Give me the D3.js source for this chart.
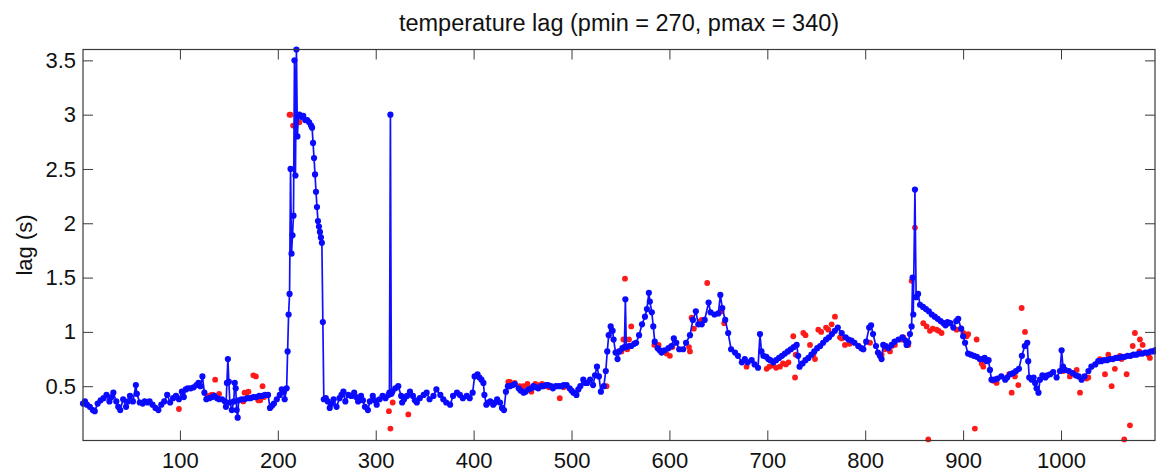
<!DOCTYPE html>
<html>
<head>
<meta charset="utf-8">
<script src="https://cdn.jsdelivr.net/npm/d3@7"></script>
<style>
  body { margin: 0; background: #fff; }
  svg { display: block; font-family: "Liberation Sans", Arial, Helvetica, sans-serif; }
</style>
</head>
<body>
<svg id="chart"></svg>
<script>
// chart text
const titleText = "temperature lag (pmin = 270, pmax = 340)";
const yLabel = "lag (s)";
const xTicks = [100, 200, 300, 400, 500, 600, 700, 800, 900, 1000];
const yTicks = [0.5, 1, 1.5, 2, 2.5, 3, 3.5];

// blue series (smoothed lag), [sample, lag]
const lagSmooth = [
  [1,0.34],[3,0.36],[5,0.33],[8,0.31],[11,0.28],[13,0.27],[16,0.34],[19,0.37],[22,0.39],[25,0.42],
  [28,0.36],[30,0.40],[32,0.44],[35,0.36],[37,0.31],[39,0.28],[42,0.38],[45,0.31],[47,0.36],[49,0.41],
  [52,0.36],[55,0.51],[56,0.43],[59,0.35],[62,0.34],[64,0.36],[67,0.35],[69,0.36],[72,0.33],[75,0.30],
  [78,0.28],[81,0.33],[84,0.36],[87,0.42],[90,0.35],[93,0.39],[96,0.41],[99,0.38],[102,0.45],[104,0.40],
  [106,0.47],[108,0.48],[111,0.48],[114,0.49],[117,0.51],[119,0.53],[121,0.50],[123,0.59],[125,0.44],[127,0.38],
  [130,0.39],[133,0.40],[135,0.41],[138,0.39],[140,0.38],[143,0.38],[146,0.36],[147,0.31],[148,0.53],[149,0.75],
  [150,0.54],[151,0.35],[153,0.28],[155,0.36],[156,0.53],[157,0.48],[158,0.28],[159,0.21],[160,0.37],[163,0.38],
  [166,0.38],[169,0.39],[172,0.39],[175,0.40],[178,0.40],[181,0.41],[184,0.41],[187,0.42],[190,0.42],[192,0.30],
  [194,0.32],[196,0.34],[199,0.38],[202,0.42],[204,0.47],[206,0.45],[207,0.38],[209,0.48],[210,0.82],[211,1.16],
  [212,1.35],[213,2.50],[214,1.72],[215,1.89],[216,2.07],[217,3.50],[218,2.44],[219,3.60],[220,2.80],[221,2.99],
  [222,3.00],[224,2.98],[226,2.99],[228,2.95],[230,2.95],[232,2.93],[234,2.90],[235,2.88],[236,2.74],[237,2.60],
  [238,2.45],[239,2.29],[240,2.15],[241,2.02],[242,1.97],[243,1.92],[244,1.87],[245,1.82],[246,1.09],[247,0.38],
  [249,0.39],[251,0.36],[253,0.30],[255,0.34],[257,0.38],[260,0.31],[263,0.39],[265,0.42],[267,0.45],[269,0.36],
  [272,0.42],[275,0.41],[278,0.44],[280,0.40],[282,0.36],[285,0.41],[287,0.37],[289,0.31],[292,0.28],[294,0.36],
  [297,0.41],[299,0.37],[301,0.33],[304,0.38],[307,0.41],[310,0.39],[313,0.42],[314,0.44],[315,3.00],[316,0.43],
  [317,0.45],[320,0.48],[323,0.50],[326,0.41],[327,0.35],[329,0.38],[332,0.41],[335,0.45],[338,0.41],[340,0.37],
  [342,0.35],[345,0.39],[349,0.42],[352,0.44],[355,0.38],[359,0.41],[362,0.47],[366,0.42],[369,0.38],[372,0.35],
  [376,0.33],[379,0.41],[383,0.44],[386,0.42],[389,0.39],[393,0.41],[396,0.39],[399,0.44],[401,0.59],[404,0.61],
  [406,0.58],[408,0.56],[410,0.53],[411,0.42],[413,0.33],[415,0.35],[417,0.36],[420,0.33],[422,0.35],[424,0.38],
  [427,0.35],[429,0.30],[431,0.28],[433,0.45],[435,0.50],[437,0.50],[440,0.51],[442,0.52],[446,0.48],[448,0.46],
  [451,0.44],[453,0.45],[456,0.47],[459,0.48],[461,0.50],[464,0.49],[466,0.48],[469,0.50],[471,0.50],[474,0.51],
  [476,0.51],[479,0.50],[481,0.48],[484,0.50],[487,0.50],[490,0.50],[492,0.51],[495,0.51],[498,0.48],[500,0.46],
  [502,0.44],[505,0.42],[507,0.47],[509,0.50],[512,0.56],[514,0.53],[516,0.53],[519,0.56],[522,0.51],[524,0.60],
  [526,0.68],[528,0.59],[530,0.45],[533,0.50],[535,0.64],[536.5,0.82],[538,0.97],[540,1.05],[542,1.01],[543,0.93],
  [545,0.81],[547,0.75],[549,0.82],[552,0.85],[554,0.86],[555,1.30],[556,0.86],[559,0.87],[561,0.87],[564,0.89],
  [566,0.90],[569,0.97],[572,1.07],[575,1.14],[577,1.21],[579,1.36],[580,1.28],[582,1.18],[583.5,1.05],[585,0.91],
  [588,0.85],[590,0.83],[592,0.81],[595,0.83],[599,0.85],[602,0.87],[604.5,0.94],[607,0.90],[610,0.84],[614,0.84],
  [617,0.90],[621,0.97],[624,1.11],[627,1.19],[629.5,1.07],[633,1.07],[636,1.11],[640,1.27],[642,1.18],[646,1.16],
  [650,1.17],[652,1.34],[654,1.22],[657,1.11],[660,0.99],[663,0.84],[667,0.81],[670,0.78],[674,0.72],[677,0.75],
  [680,0.72],[684,0.74],[687,0.70],[690.5,0.67],[692.5,0.98],[694,0.82],[696,0.78],[699,0.77],[701,0.75],[703,0.74],
  [706,0.72],[709,0.74],[712,0.76],[715,0.78],[718,0.80],[721,0.82],[724,0.84],[727,0.86],[730,0.88],[731.5,0.78],
  [733,0.68],[736,0.71],[739,0.74],[742,0.76],[745,0.79],[748,0.82],[751,0.85],[754,0.87],[757,0.90],[760,0.93],
  [763,0.95],[766,0.98],[769,1.01],[772,1.04],[776,0.99],[780,0.95],[783,0.93],[786,0.92],[789,0.90],[793,0.87],
  [796,0.85],[798,0.84],[801,0.91],[804,1.04],[806,1.06],[808,0.98],[811,0.87],[813,0.81],[815,0.78],[816.7,0.75],
  [818.4,0.88],[821,0.87],[823.5,0.85],[827,0.88],[830,0.91],[834,0.93],[838,0.95],[841,0.92],[842.3,0.88],[844,0.90],
  [845.7,0.98],[847.4,1.05],[848.4,1.50],[849.1,1.16],[850.8,2.31],[852,1.32],[854,1.35],[856,1.25],[859,1.23],[862,1.21],
  [865,1.19],[868,1.16],[871,1.14],[874,1.12],[877,1.10],[880,1.08],[882,1.06],[884,1.09],[887,1.08],[890,1.04],
  [893,1.10],[895,1.12],[898,1.03],[900,0.96],[902,0.90],[905,0.80],[908,0.79],[911,0.78],[914,0.77],[917,0.75],
  [920,0.75],[922,0.76],[924,0.73],[926,0.74],[927.4,0.65],[929,0.56],[932,0.56],[935,0.57],[939,0.59],[943,0.56],
  [945,0.58],[948,0.61],[951,0.62],[954,0.64],[957,0.66],[960,0.78],[963,0.87],[965.5,0.90],[966.5,0.73],[967.5,0.58],
  [970,0.56],[972,0.58],[973.5,0.53],[975,0.48],[977,0.44],[978.5,0.56],[981,0.60],[984,0.58],[986,0.60],[989,0.61],
  [992,0.63],[995.5,0.58],[999,0.64],[1000.6,0.83],[1002,0.68],[1004,0.65],[1008,0.64],[1012,0.62],[1015,0.60],[1018,0.59],
  [1021,0.56],[1024,0.59],[1028,0.64],[1031,0.68],[1035,0.70],[1038,0.73],[1041,0.73],[1044,0.74],[1047,0.74],[1050,0.75],
  [1053,0.75],[1056,0.76],[1059,0.76],[1062,0.77],[1065,0.77],[1068,0.78],[1071,0.78],[1074,0.79],[1077,0.79],[1080,0.80],
  [1083,0.80],[1086,0.81],[1089,0.81],[1092,0.82],[1095,0.82],[1096,0.83]
];

// red points (raw lag estimates), [sample, lag]
const lagRaw = [
  [99,0.29],[129,0.41],[132,0.42],[134,0.42],[136,0.56],[140,0.43],[164.7,0.36],[166,0.44],[168,0.44],[170,0.45],
  [175,0.60],[177.6,0.59],[180,0.37],[182,0.37],[184.4,0.50],[186,0.40],[212,3.0],[213,3.0],[215.6,2.9],[222,2.93],
  [313.5,0.27],[315,0.11],[317.3,0.35],[333.3,0.24],[435.4,0.54],[437,0.54],[442,0.53],[447,0.50],[450.7,0.50],[455,0.52],
  [459,0.45],[463,0.52],[466,0.51],[470,0.52],[473,0.50],[477,0.49],[488,0.39],[492,0.49],[535.8,0.50],[541,1.02],
  [548,0.82],[551,0.82],[553,0.93],[554.6,1.49],[557,0.84],[558.7,0.93],[561,1.05],[584.6,0.88],[589,0.88],[597,0.80],
  [600.5,0.78],[603,0.86],[620,0.86],[621,0.82],[622.6,1.13],[625,1.03],[631.7,1.10],[633,1.11],[638.6,1.45],[653.3,1.19],
  [656,1.08],[678.8,0.68],[699.3,0.66],[702,0.68],[706,0.69],[709,0.67],[712.9,0.68],[716,0.71],[719,0.70],[721.6,0.72],
  [726.5,0.96],[728.3,0.58],[729,0.79],[736.8,0.99],[739,0.97],[743.6,0.88],[747,0.79],[748.7,0.75],[752.1,1.02],[755,1.00],
  [760,1.04],[762.3,1.02],[765.7,1.07],[769.1,1.14],[774.2,0.95],[776,0.94],[779.3,0.88],[784,0.89],[793,0.87],[798,0.84],
  [804.9,0.90],[816.8,0.79],[820,0.84],[825.3,0.82],[827,0.87],[830.3,0.88],[837.2,0.93],[839,0.95],[844,0.88],[847.4,1.47],
  [850.8,1.96],[859.3,1.08],[862.7,1.05],[864.4,0.01],[866.1,1.01],[869,1.03],[873,1.02],[875,1.01],[878,0.99],[883,1.07],
  [893.4,1.02],[900.2,0.99],[903.6,0.96],[905.2,0.98],[912,0.11],[913.8,0.93],[919,0.71],[920.6,0.68],[930.8,0.55],[934.2,0.53],
  [947,0.61],[949.6,0.44],[953,0.59],[956.4,0.51],[959.8,1.22],[963.2,1.00],[1002.3,0.64],[1004,0.65],[1009,0.59],[1016,0.65],
  [1019.4,0.44],[1026,0.57],[1027.9,0.58],[1039.8,0.75],[1044.9,0.61],[1048.3,0.79],[1051.7,0.50],[1055,0.66],[1060,0.78],[1061.9,0.75],
  [1064.6,0.01],[1067,0.61],[1070.4,0.78],[1070.4,0.14],[1073.2,0.87],[1075.5,0.99],[1080,0.82],[1080.6,0.93],[1083.4,0.88],[1089.2,0.79],
  [1090.8,0.76]
];

const width = 1156;
const height = 474;
const margin = { top: 49.5, right: 1, bottom: 33.5, left: 83 };
const axisColor = "#3a3a3a";

const svg = d3.select("#chart")
  .attr("width", width)
  .attr("height", height);

const x = d3.scaleLinear()
  .domain([1, 1096])
  .range([margin.left, width - margin.right]);

const y = d3.scaleLinear()
  .domain([0, 3.6])
  .range([height - margin.bottom, margin.top]);

// red raw points go under the blue line
svg.append("g")
  .selectAll("circle")
  .data(lagRaw)
  .enter()
  .append("circle")
  .attr("cx", d => x(d[0]))
  .attr("cy", d => y(d[1]))
  .attr("r", 2.9)
  .attr("fill", "#ff1a1a");

const line = d3.line()
  .x(d => x(d[0]))
  .y(d => y(d[1]));

svg.append("path")
  .datum(lagSmooth)
  .attr("d", line)
  .attr("fill", "none")
  .attr("stroke", "#1010ff")
  .attr("stroke-width", 1.7);

svg.append("g")
  .selectAll("circle")
  .data(lagSmooth)
  .enter()
  .append("circle")
  .attr("cx", d => x(d[0]))
  .attr("cy", d => y(d[1]))
  .attr("r", 3.1)
  .attr("fill", "#0a0aff");

// axes, MATLAB-style box with inward ticks on all sides
const tickLen = 10;
const x0 = margin.left, x1 = width - margin.right;
const y0 = height - margin.bottom, y1 = margin.top;
const fmt = d => String(d);

const xAxisB = d3.axisBottom(x).tickValues(xTicks).tickFormat(fmt).tickSizeInner(-tickLen).tickSizeOuter(0).tickPadding(12);
const xAxisT = d3.axisTop(x).tickValues(xTicks).tickSizeInner(-tickLen).tickSizeOuter(0).tickFormat("");
const yAxisL = d3.axisLeft(y).tickValues(yTicks).tickFormat(fmt).tickSizeInner(-tickLen).tickSizeOuter(0).tickPadding(7);
const yAxisR = d3.axisRight(y).tickValues(yTicks).tickSizeInner(-tickLen).tickSizeOuter(0).tickFormat("");

const gB = svg.append("g").attr("transform", `translate(0,${y0})`).call(xAxisB);
const gT = svg.append("g").attr("transform", `translate(0,${y1})`).call(xAxisT);
const gL = svg.append("g").attr("transform", `translate(${x0},0)`).call(yAxisL);
const gR = svg.append("g").attr("transform", `translate(${x1},0)`).call(yAxisR);

[gB, gT, gL, gR].forEach(g => {
  g.select(".domain").remove();
  g.selectAll(".tick line").attr("stroke", axisColor).attr("stroke-width", 1);
  g.selectAll("text")
    .attr("fill", "#111")
    .style("font-family", "'Liberation Sans', Arial, sans-serif")
    .style("font-size", "22px");
});

svg.append("rect")
  .attr("x", x0)
  .attr("y", y1)
  .attr("width", x1 - x0)
  .attr("height", y0 - y1)
  .attr("fill", "none")
  .attr("stroke", axisColor)
  .attr("stroke-width", 1.2);

svg.append("text")
  .attr("x", (x0 + x1) / 2)
  .attr("y", 31)
  .attr("text-anchor", "middle")
  .attr("fill", "#111")
  .style("font-size", "23.5px")
  .text(titleText);

svg.append("text")
  .attr("transform", "rotate(-90)")
  .attr("x", -(y0 + y1) / 2)
  .attr("y", 32)
  .attr("text-anchor", "middle")
  .attr("fill", "#111")
  .style("font-size", "22px")
  .text(yLabel);
</script>
</body>
</html>
